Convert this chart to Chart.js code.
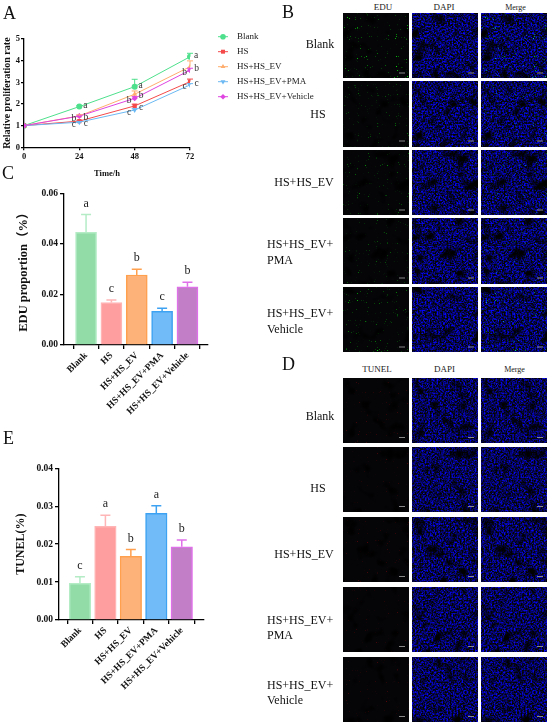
<!DOCTYPE html>
<html><head><meta charset="utf-8">
<script src="https://cdn.jsdelivr.net/npm/chart.js@4.4.1/dist/chart.umd.min.js"></script>
<style>
html,body{margin:0;padding:0;background:#fff;}
body{width:550px;height:726px;position:relative;overflow:hidden;font-family:'Liberation Serif','Times New Roman',serif;color:#111;}
canvas{position:absolute;}
.plabel{position:absolute;font-size:18px;line-height:1;color:#111;}
.rowlab{position:absolute;font-size:12px;line-height:15.5px;color:#111;white-space:nowrap;}
.ctr{transform:translate(-50%,-50%);}
.vc{transform:translateY(-50%);}
.hdr{position:absolute;font-size:9px;color:#222;transform:translate(-50%,-50%);white-space:nowrap;}
.tile{position:absolute;display:block;}
</style></head><body>
<canvas id="cA" width="330" height="180" style="left:0;top:0;width:330px;height:180px"></canvas>
<canvas id="cC" width="215" height="250" style="left:0;top:180px;width:215px;height:250px"></canvas>
<canvas id="cE" width="215" height="286" style="left:0;top:440px;width:215px;height:286px"></canvas>
<div id="panels"></div>
<script>
// ---------- DATA ----------
const timePoints = [0, 24, 48, 72];
const groupNames = ['Blank', 'HS', 'HS+HS_EV', 'HS+HS_EV+PMA', 'HS+HS_EV+Vehicle'];
const rateTicks = [0, 1, 2, 3, 4, 5];

const rateBlank   = [1.00, 1.88, 2.80, 4.18];
const rateHS      = [1.00, 1.21, 1.91, 3.03];
const rateHSEV    = [1.00, 1.45, 2.45, 3.72];
const ratePMA     = [1.00, 1.16, 1.72, 2.88];
const rateVehicle = [1.00, 1.44, 2.26, 3.56];

const errBlank   = [0, 0.04, 0.34, 0.16];
const errHS      = [0, 0.04, 0.08, 0.12];
const errHSEV    = [0, 0.05, 0.15, 0.27];
const errPMA     = [0, 0.03, 0.06, 0.06];
const errVehicle = [0, 0.04, 0.08, 0.09];

const letBlank   = ['', 'a', 'a', 'a'];
const letHS      = ['', 'c', 'c', 'c'];
const letHSEV    = ['', 'b', 'b', 'b'];
const letPMA     = ['', 'c', 'c', 'c'];
const letVehicle = ['', 'b', 'b', 'b'];

const eduValues  = [0.0446, 0.0168, 0.0277, 0.0133, 0.0230];
const eduErrors  = [0.0070, 0.0010, 0.0023, 0.0012, 0.0018];
const eduLetters = ['a', 'c', 'b', 'c', 'b'];
const eduTicks   = [0, 0.02, 0.04, 0.06];

const tunelValues  = [0.0097, 0.0247, 0.0168, 0.0281, 0.0193];
const tunelErrors  = [0.0017, 0.0029, 0.0018, 0.0020, 0.0018];
const tunelLetters = ['c', 'a', 'b', 'a', 'b'];
const tunelTicks   = [0, 0.01, 0.02, 0.03, 0.04];

// ---------- STYLE ----------
const seriesA = [rateBlank, rateHS, rateHSEV, ratePMA, rateVehicle];
const errA = [errBlank, errHS, errHSEV, errPMA, errVehicle];
const letA = [letBlank, letHS, letHSEV, letPMA, letVehicle];
const lineColors = ['#4ee08c', '#f44a4a', '#ffad6e', '#6cb9f3', '#df45e0'];
const pointStyles = ['circle', 'rect', 'triangle', 'triangle', 'rectRot'];
const pointRot = [0, 0, 0, 180, 0];
const letDx = [6, 6.5, 6.5, -5.5, -5.5];
const letDy = [-1, 2, 1.5, 2, 2];
const barFill = ['#92dca8', '#ff9e9e', '#fdb27a', '#70bbf8', '#c27fc8'];
const barBorder = ['#b4ecc6', '#ffb5b5', '#ffa04f', '#3ea2f2', '#e070ea'];
const FONT = "'Liberation Serif','Times New Roman',serif";

Chart.defaults.font.family = FONT;
Chart.defaults.color = '#111';
Chart.defaults.animation = false;

const axisGrid = {drawOnChartArea:false, color:'#000', lineWidth:1.3, tickLength:3};
const axisBorder = {color:'#000', width:1.3};

// ---------- PANEL A ----------
const aExtras = {
  id:'aExtras',
  afterDatasetsDraw(chart){
    const ctx = chart.ctx, ys = chart.scales.y;
    ctx.save();
    chart.data.datasets.forEach((ds,di)=>{
      const k = ds.gi;
      chart.getDatasetMeta(di).data.forEach((pt,i)=>{
        const e = errA[k][i];
        if (e > 0) {
          const yt = ys.getPixelForValue(seriesA[k][i] + e);
          ctx.strokeStyle = lineColors[k]; ctx.lineWidth = 1;
          ctx.beginPath(); ctx.moveTo(pt.x, pt.y); ctx.lineTo(pt.x, yt);
          ctx.moveTo(pt.x-3, yt); ctx.lineTo(pt.x+3, yt); ctx.stroke();
        }
        const L = letA[k][i];
        if (L) {
          ctx.fillStyle = '#333'; ctx.font = "9.5px " + FONT;
          ctx.textAlign = 'center'; ctx.textBaseline = 'middle';
          ctx.fillText(L, pt.x + letDx[k], pt.y + letDy[k]);
        }
      });
    });
    // legend
    groupNames.forEach((name,k)=>{
      const y = 36.7 + 15*k;
      ctx.strokeStyle = lineColors[k]; ctx.lineWidth = 1;
      ctx.beginPath(); ctx.moveTo(218, y); ctx.lineTo(228, y); ctx.stroke();
      ctx.fillStyle = lineColors[k];
      Chart.helpers.drawPoint(ctx, {pointStyle:pointStyles[k], rotation:pointRot[k], radius:2.8, borderWidth:0}, 223, y);
      ctx.fillStyle = '#222'; ctx.font = "9px " + FONT;
      ctx.textAlign = 'left'; ctx.textBaseline = 'middle';
      ctx.fillText(name, 237, y);
    });
    ctx.restore();
  }
};

new Chart(document.getElementById('cA'), {
  type:'line',
  data:{ datasets: groupNames.map((name,k)=>({
    label:name, gi:k,
    data: timePoints.map((t,i)=>({x:t, y:seriesA[k][i]})),
    borderColor: lineColors[k], backgroundColor: lineColors[k],
    borderWidth:1, pointStyle:pointStyles[k], pointRotation:pointRot[k],
    pointRadius: 3, pointBorderWidth:0, tension:0
  })).reverse() },
  options:{
    responsive:false, animation:false,
    layout:{padding:{top:39, right:140, left:0, bottom:0}},
    plugins:{legend:{display:false}, tooltip:{enabled:false}},
    scales:{
      x:{ type:'linear', min:0, max:72,
        afterBuildTicks:s=>{ s.ticks = timePoints.map(v=>({value:v})); },
        afterFit:s=>{ s.height = 32.7; },
        grid:axisGrid, border:axisBorder,
        ticks:{font:{size:8.5, weight:'bold'}, padding:1, maxRotation:0, color:'#111'},
        title:{display:true, text:'Time/h', font:{size:8.5, weight:'bold'}, padding:{top:0, bottom:1}, color:'#111'} },
      y:{ min:0, max:5,
        afterBuildTicks:s=>{ s.ticks = rateTicks.map(v=>({value:v})); },
        afterFit:s=>{ s.width = 24; },
        grid:axisGrid, border:axisBorder,
        ticks:{font:{size:8.5, weight:'bold'}, padding:1, color:'#111'},
        title:{display:true, text:'Relative proliferation rate', font:{size:10, weight:'bold'}, padding:{top:1.5, bottom:0}, color:'#111'} }
    }
  },
  plugins:[aExtras]
});

// ---------- BAR PANELS ----------
function barChart(id, values, errors, letters, ticks, cfg){
  const extras = {
    id:'barExtras',
    afterDatasetsDraw(chart){
      const ctx = chart.ctx, ys = chart.scales.y;
      ctx.save();
      chart.getDatasetMeta(0).data.forEach((el,i)=>{
        const yt = ys.getPixelForValue(values[i] + errors[i]);
        ctx.strokeStyle = barBorder[i]; ctx.lineWidth = 1.5;
        ctx.beginPath(); ctx.moveTo(el.x, el.y); ctx.lineTo(el.x, yt);
        ctx.moveTo(el.x-5, yt); ctx.lineTo(el.x+5, yt); ctx.stroke();
        ctx.fillStyle = '#222'; ctx.font = "12px " + FONT;
        ctx.textAlign = 'center'; ctx.textBaseline = 'middle';
        ctx.fillText(letters[i], el.x, yt - 11);
      });
      ctx.restore();
    }
  };
  new Chart(document.getElementById(id), {
    type:'bar',
    data:{ datasets:[{
      data: values.map((v,i)=>({x:i, y:v})),
      backgroundColor: barFill, borderColor: barBorder, borderWidth:1.5,
      barThickness: cfg.thick, borderSkipped:'bottom'
    }]},
    options:{
      responsive:false, animation:false,
      layout:{padding:{top:cfg.padTop, right:cfg.padRight, left:0, bottom:0}},
      plugins:{legend:{display:false}, tooltip:{enabled:false}},
      scales:{
        x:{ type:'linear', min:cfg.xmin, max:cfg.xmax, offset:false,
          afterBuildTicks:s=>{ s.ticks = groupNames.map((n,i)=>({value:i})); },
          afterFit:s=>{ s.height = cfg.xh; },
          grid:{...axisGrid, tickLength:4}, border:axisBorder,
          ticks:{ callback:(v)=>groupNames[v], autoSkip:false, minRotation:45, maxRotation:45,
                  font:{size:9.5, weight:'bold'}, padding:1, color:'#111' } },
        y:{ min:0, max:ticks[ticks.length-1],
          afterBuildTicks:s=>{ s.ticks = ticks.map(v=>({value:v})); },
          afterFit:s=>{ s.width = cfg.yw; },
          grid:{...axisGrid, tickLength:4}, border:axisBorder,
          ticks:{ callback:(v)=>Number(v).toFixed(2), font:{size:9.5, weight:'bold'}, padding:2, color:'#111' },
          title:{display:true, text:cfg.title, font:{size:cfg.tsize, weight:'bold', family:FONT + ",'Noto Sans CJK SC'"}, padding:{top:cfg.tpad, bottom:0}, color:'#111'} }
      }
    },
    plugins:[extras]
  });
}

barChart('cC', eduValues, eduErrors, eduLetters, eduTicks,
  {thick:21, xmin:-0.87, xmax:4.81, xh:85, yw:64, padTop:13.3, padRight:7, title:'EDU proportion（%）', tsize:12.5, tpad:16});
barChart('cE', tunelValues, tunelErrors, tunelLetters, tunelTicks,
  {thick:21.5, xmin:-0.823, xmax:4.846, xh:106, yw:59, padTop:28.3, padRight:11.7, title:'TUNEL(%)', tsize:12, tpad:14});

// ---------- MICROSCOPY TILE PANELS (decorative textures) ----------
const panels = document.getElementById('panels');
function add(html){ panels.insertAdjacentHTML('beforeend', html); }
let tileCount = 0;
function tile(left, top, h, seed, b, g, r, dark){
  const id = 'tf' + (tileCount++);
  const svg = '<svg class="tile" xmlns="http://www.w3.org/2000/svg" width="66" height="'+h+'" style="left:'+left+'px;top:'+top+'px">'
   + '<filter id="'+id+'" x="0" y="0" width="100%" height="100%" color-interpolation-filters="sRGB">'
   + '<feTurbulence type="fractalNoise" baseFrequency="0.6" numOctaves="2" seed="'+seed+'" result="n1"/>'
   + '<feColorMatrix in="n1" type="matrix" values="0 0 0 0 0.02  0 0 0 0 0.02  '+(b*2.6)+' 0 0 0 '+(-b*0.98+0.03)+'  0 0 0 0 1" result="blue"/>'
   + '<feTurbulence type="fractalNoise" baseFrequency="0.9" numOctaves="1" seed="'+(seed+11)+'" result="n2"/>'
   + '<feColorMatrix in="n2" type="matrix" values="'+(r*9)+' 0 0 0 '+(-r*6.4)+'  '+(g*9)+' 0 0 0 '+(-g*6.25)+'  0 0 0 0 0  0 0 0 0 1" result="spk"/>'
   + '<feComposite in="blue" in2="spk" operator="arithmetic" k1="0" k2="1" k3="1" k4="0" result="sum"/>'
   + '<feTurbulence type="fractalNoise" baseFrequency="0.07" numOctaves="2" seed="'+(seed+23)+'" result="n3"/>'
   + '<feColorMatrix in="n3" type="matrix" values="0 0 0 0 0  0 0 0 0 0  0 0 0 0 0  -5 0 0 0 '+dark+'" result="dk"/>'
   + '<feComposite in="dk" in2="sum" operator="over"/>'
   + '</filter><rect width="66" height="'+h+'" fill="#000" filter="url(#'+id+')"/>'
   + '<rect x="56" y="'+(h-6)+'" width="6" height="1" fill="#888"/></svg>';
  add(svg);
}
const colLeft = [342.7, 411.7, 480.7];
const bRowTop = [12.7, 81.2, 149.7, 218.2, 286.7];
const dRowTop = [377.7, 447.4, 517.2, 586.9, 656.7];
const edgGreen = [0.8, 0.45, 0.55, 0.4, 0.65];
bRowTop.forEach((top,r)=>{
  const sd = 5 + r*7, g = edgGreen[r];
  tile(colLeft[0], top, 65.5, sd, 0, g, 0, 2.2);
  tile(colLeft[1], top, 65.5, sd, 1, 0, 0, 2.2);
  tile(colLeft[2], top, 65.5, sd, 1, g, 0, 2.2);
});
dRowTop.forEach((top,r)=>{
  const sd = 61 + r*7;
  tile(colLeft[0], top, 65, sd, 0, 0, 0.3, 2.2);
  tile(colLeft[1], top, 65, sd, 0.95, 0, 0, 2.1);
  tile(colLeft[2], top, 65, sd, 0.95, 0, 0.15, 2.1);
});
// headers
add('<div class="hdr" style="left:383px;top:7px">EDU</div>');
add('<div class="hdr" style="left:444px;top:7px">DAPI</div>');
add('<div class="hdr" style="left:515.5px;top:7px;font-size:8px">Merge</div>');
add('<div class="hdr" style="left:377px;top:369px">TUNEL</div>');
add('<div class="hdr" style="left:444.5px;top:369px">DAPI</div>');
add('<div class="hdr" style="left:514.5px;top:369px;font-size:8px">Merge</div>');
// row labels
function rowLabels(c){
  add('<div class="rowlab ctr" style="left:320px;top:'+c[0]+'px">Blank</div>');
  add('<div class="rowlab ctr" style="left:318px;top:'+c[1]+'px">HS</div>');
  add('<div class="rowlab ctr" style="left:304px;top:'+c[2]+'px">HS+HS_EV</div>');
  add('<div class="rowlab vc" style="left:267px;top:'+c[3]+'px">HS+HS_EV+<br>PMA</div>');
  add('<div class="rowlab vc" style="left:267px;top:'+c[4]+'px">HS+HS_EV+<br>Vehicle</div>');
}
rowLabels([45, 115, 182.5, 252, 321]);
rowLabels([417, 489, 555, 627.5, 692.5]);
// panel letters
add('<div class="plabel" style="left:3px;top:4px">A</div>');
add('<div class="plabel" style="left:282px;top:3px">B</div>');
add('<div class="plabel" style="left:2px;top:164px">C</div>');
add('<div class="plabel" style="left:282px;top:355px">D</div>');
add('<div class="plabel" style="left:3px;top:428.5px">E</div>');
</script>
</body></html>
